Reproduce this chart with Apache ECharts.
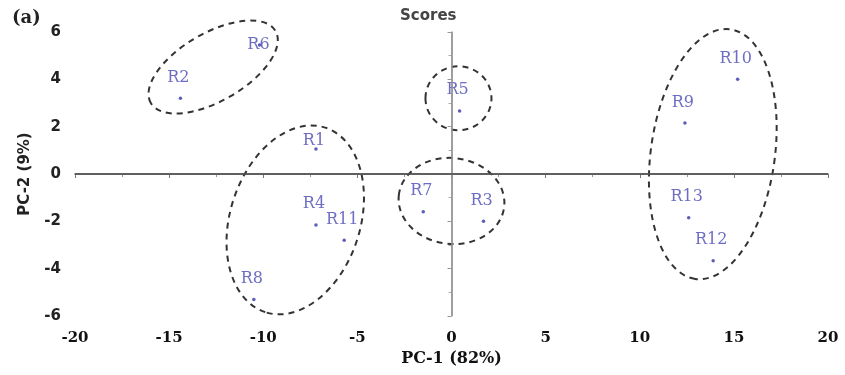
<!DOCTYPE html>
<html>
<head>
<meta charset="utf-8">
<script src="https://cdn.jsdelivr.net/npm/echarts@6/dist/echarts.min.js"></script>
<style>
html, body { margin: 0; padding: 0; background: #fff; }
#chart { width: 845px; height: 375px; }
</style>
</head>
<body>
<div id="chart"></div>
<script>
// score plot values
var names = ['R1', 'R2', 'R3', 'R4', 'R5', 'R6', 'R7', 'R8', 'R9', 'R10', 'R11', 'R12', 'R13'];
var pc1 = [-7.2, -14.4, 1.7, -7.2, 0.43, -10.2, -1.5, -10.5, 12.4, 15.2, -5.7, 13.9, 12.6];
var pc2 = [1.06, 3.2, -2.0, -2.15, 2.66, 5.45, -1.6, -5.3, 2.15, 4.0, -2.8, -3.67, -1.85];

// group outlines: centre in data units
var groupX = [-12.66, -8.3, 0.37, 0, 13.88];
var groupY = [4.52, -1.94, 3.2, -1.14, 0.84];

var xTicks = [-20, -15, -10, -5, 0, 5, 10, 15, 20];

var chartDom = document.getElementById('chart');
var myChart = echarts.init(chartDom);

// ellipse shape (px radii, rotation deg) for each group
var ellipseShape = [
    [72, 34, 30],
    [97, 65, 72],
    [33, 32, 0],
    [53, 43, -6],
    [126, 62, 82]
];

// labels that sit over their dot instead of above it
var labelOffset = { R1: [-2, 13], R6: [-1, 21] };

var points = names.map(function (n, i) {
    var item = { name: n, value: [pc1[i], pc2[i]] };
    if (labelOffset[n]) {
        item.label = { offset: labelOffset[n] };
    }
    return item;
});

var groups = groupX.map(function (x, i) {
    return [x, groupY[i], i];
});

var option = {
    animation: false,
    title: [{
        text: 'Scores',
        left: 395,
        top: 4,
        textStyle: { fontFamily: 'DejaVu Sans', fontWeight: 'bold', fontSize: 15, color: '#444' }
    }, {
        text: '(a)',
        left: 7,
        top: 4,
        textStyle: { fontFamily: 'DejaVu Serif', fontWeight: 'bold', fontSize: 18, color: '#222' }
    }],
    grid: { left: 75, right: 17, top: 32, bottom: 59 },
    xAxis: {
        type: 'value',
        min: -20,
        max: 20,
        interval: 5,
        name: 'PC-1 (82%)',
        nameLocation: 'middle',
        nameGap: 26,
        nameTextStyle: { fontFamily: 'DejaVu Serif', fontWeight: 'bold', fontSize: 16, color: '#111' },
        axisLine: { lineStyle: { color: '#555', width: 1.5 } },
        axisTick: { length: 4, lineStyle: { color: '#777' } },
        minorTick: { show: true, splitNumber: 2, length: 3, lineStyle: { color: '#999' } },
        splitLine: { show: false },
        axisLabel: {
            margin: 15,
            fontFamily: 'DejaVu Serif', fontWeight: 'bold', fontSize: 15, color: '#111',
            formatter: function (v) { return xTicks.indexOf(v) >= 0 ? String(v) : ''; }
        }
    },
    yAxis: {
        type: 'value',
        min: -6,
        max: 6,
        interval: 2,
        name: 'PC-2 (9%)',
        nameLocation: 'middle',
        nameGap: 42,
        nameTextStyle: { fontFamily: 'DejaVu Sans', fontWeight: 'bold', fontSize: 15, color: '#222' },
        axisLine: { lineStyle: { color: '#999', width: 1.5 } },
        axisTick: { length: 4, lineStyle: { color: '#999' } },
        minorTick: { show: true, splitNumber: 2, length: 3, lineStyle: { color: '#aaa' } },
        splitLine: { show: false },
        axisLabel: {
            margin: 14,
            fontFamily: 'DejaVu Sans', fontWeight: 'bold', fontSize: 15, color: '#222'
        }
    },
    series: [{
        type: 'custom',
        silent: true,
        z: 1,
        data: groups,
        encode: { x: 0, y: 1 },
        renderItem: function (params, api) {
            var c = api.coord([api.value(0), api.value(1)]);
            var s = ellipseShape[api.value(2)];
            return {
                type: 'ellipse',
                x: c[0],
                y: c[1],
                rotation: s[2] * Math.PI / 180,
                shape: { cx: 0, cy: 0, rx: s[0], ry: s[1] },
                style: { fill: 'none', stroke: '#333', lineWidth: 2, lineDash: [6, 5] }
            };
        }
    }, {
        type: 'scatter',
        z: 3,
        symbolSize: 3.5,
        itemStyle: { color: '#3535a8' },
        data: points,
        label: {
            show: true,
            position: 'top',
            distance: 11,
            offset: [-2, 0],
            formatter: '{b}',
            fontFamily: 'DejaVu Serif',
            fontSize: 16,
            color: '#4848b4'
        },
        markLine: {
            silent: true,
            symbol: 'none',
            label: { show: false },
            animation: false,
            data: [
                { xAxis: 0, lineStyle: { color: '#999', width: 1.5, type: 'solid' } },
                { yAxis: 0, lineStyle: { color: '#555', width: 1.5, type: 'solid' } }
            ]
        }
    }]
};

myChart.setOption(option);
</script>
</body>
</html>
